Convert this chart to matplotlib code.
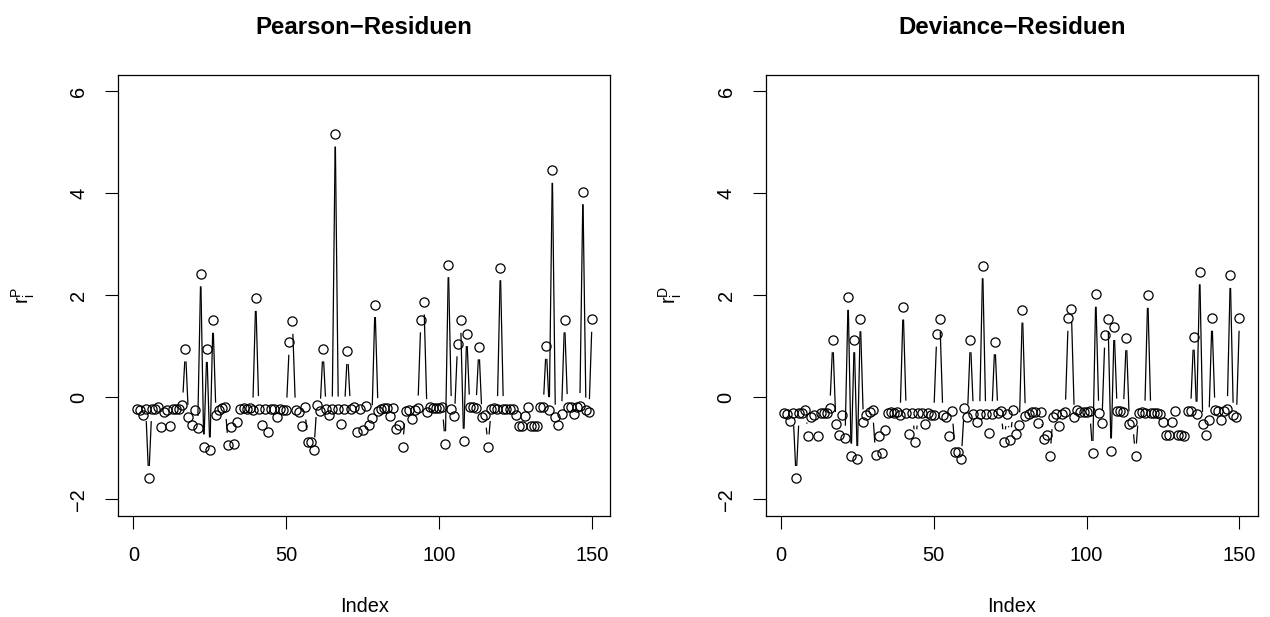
import matplotlib
matplotlib.use('Agg')
import matplotlib.pyplot as plt
import numpy as np
from matplotlib.collections import LineCollection

plt.rcParams['font.family'] = ['Liberation Sans', 'DejaVu Sans']
plt.rcParams['mathtext.fontset'] = 'custom'
plt.rcParams['mathtext.rm'] = 'Liberation Sans'

index = np.arange(1, 151)
pearson = [
    -0.22, -0.24, -0.34, -0.22, -1.59, -0.22, -0.22, -0.18, -0.58, -0.28,
    -0.25, -0.57, -0.22, -0.22, -0.22, -0.15, 0.95, -0.39, -0.55, -0.25,
    -0.61, 2.42, -0.97, 0.94, -1.03, 1.51, -0.35, -0.25, -0.20, -0.18,
    -0.94, -0.58, -0.91, -0.48, -0.22, -0.20, -0.22, -0.20, -0.25, 1.94,
    -0.22, -0.54, -0.22, -0.68, -0.22, -0.22, -0.38, -0.22, -0.25, -0.25,
    1.08, 1.49, -0.25, -0.28, -0.57, -0.19, -0.88, -0.88, -1.03, -0.14,
    -0.27, 0.95, -0.23, -0.35, -0.23, 5.16, -0.23, -0.52, -0.23, 0.90,
    -0.22, -0.19, -0.68, -0.23, -0.64, -0.17, -0.54, -0.40, 1.82, -0.26,
    -0.23, -0.20, -0.20, -0.37, -0.20, -0.63, -0.55, -0.97, -0.27, -0.24,
    -0.42, -0.24, -0.21, 1.52, 1.87, -0.28, -0.18, -0.20, -0.20, -0.20,
    -0.19, -0.91, 2.60, -0.22, -0.37, 1.05, 1.51, -0.86, 1.25, -0.19,
    -0.19, -0.20, 0.99, -0.38, -0.35, -0.97, -0.22, -0.20, -0.22, 2.54,
    -0.22, -0.22, -0.22, -0.23, -0.35, -0.56, -0.56, -0.36, -0.19, -0.56,
    -0.56, -0.57, -0.19, -0.19, 1.00, -0.24, 4.45, -0.39, -0.55, -0.32,
    1.52, -0.18, -0.19, -0.32, -0.19, -0.16, 4.03, -0.25, -0.28, 1.53,
]
deviance = [
    -0.31, -0.33, -0.47, -0.31, -1.59, -0.31, -0.31, -0.25, -0.76, -0.39,
    -0.35, -0.75, -0.31, -0.31, -0.31, -0.21, 1.13, -0.53, -0.73, -0.35,
    -0.80, 1.96, -1.15, 1.13, -1.20, 1.54, -0.48, -0.35, -0.28, -0.25,
    -1.13, -0.76, -1.10, -0.64, -0.31, -0.28, -0.31, -0.28, -0.35, 1.77,
    -0.31, -0.72, -0.31, -0.87, -0.31, -0.31, -0.52, -0.31, -0.35, -0.35,
    1.24, 1.53, -0.35, -0.39, -0.75, -0.27, -1.07, -1.07, -1.20, -0.20,
    -0.38, 1.13, -0.32, -0.48, -0.32, 2.58, -0.32, -0.69, -0.32, 1.09,
    -0.31, -0.27, -0.87, -0.32, -0.83, -0.24, -0.72, -0.54, 1.71, -0.36,
    -0.32, -0.28, -0.28, -0.51, -0.28, -0.82, -0.73, -1.15, -0.38, -0.33,
    -0.57, -0.33, -0.29, 1.55, 1.73, -0.39, -0.25, -0.28, -0.28, -0.28,
    -0.27, -1.10, 2.02, -0.31, -0.51, 1.22, 1.54, -1.05, 1.37, -0.27,
    -0.27, -0.28, 1.17, -0.52, -0.48, -1.15, -0.31, -0.28, -0.31, 2.00,
    -0.31, -0.31, -0.31, -0.32, -0.48, -0.74, -0.74, -0.49, -0.27, -0.74,
    -0.74, -0.75, -0.27, -0.27, 1.18, -0.33, 2.46, -0.53, -0.73, -0.44,
    1.55, -0.25, -0.27, -0.44, -0.27, -0.22, 2.39, -0.35, -0.39, 1.55,
]

titles = ['Pearson\u2212Residuen', 'Deviance\u2212Residuen']
ylabels = [r'$\mathregular{r_i^P}$', r'$\mathregular{r_i^D}$']
xticks = [0, 50, 100, 150]
yticks = [-2, 0, 2, 4, 6]

W, H = 1270, 617
fig = plt.figure(figsize=(W / 100, H / 100), dpi=100)

GAP = 12.5  # px kept free around each point, like R's type = "b"


def panel(left_px, vals, title, ylab):
    ax = fig.add_axes([left_px / W, 1 - 515.7 / H, 492 / W, (515.7 - 75) / H])
    ax.set_xlim(1 - 0.04 * 149, 150 + 0.04 * 149)
    ax.set_ylim(-2 - 0.32, 6 + 0.32)

    ax.plot(index, vals, 'o', mfc='none', mec='black', ms=6.6, mew=0.9)

    # gapped connecting lines
    pts = ax.transData.transform(np.column_stack([index, vals]))
    inv = ax.transData.inverted()
    segs = []
    for p, q in zip(pts[:-1], pts[1:]):
        d = q - p
        L = np.hypot(d[0], d[1])
        if L > 2 * GAP:
            u = d / L
            segs.append(inv.transform(np.array([p + u * GAP, q - u * GAP])))
    ax.add_collection(LineCollection(segs, colors='black', linewidths=0.9))

    ax.set_xticks(xticks)
    ax.set_yticks(yticks)
    ax.tick_params(direction='out', length=9.6, width=0.8, labelsize=14.4,
                   pad=12)
    for lab in ax.get_yticklabels():
        lab.set_rotation(90)
        lab.set_va('center')
    for s in ax.spines.values():
        s.set_linewidth(0.9)

    cx = (left_px + 246) / W
    fig.text(cx, 1 - 27 / H, title, ha='center', va='center',
             fontsize=17.3, fontweight='bold')
    fig.text(cx, 1 - 606 / H, 'Index', ha='center', va='center',
             fontsize=14.4)
    fig.text((left_px - 95) / W, 1 - 295 / H, ylab, ha='center',
             va='center', rotation=90, fontsize=14.4)
    return ax


panel(118.3, pearson, titles[0], ylabels[0])
panel(765.7, deviance, titles[1], ylabels[1])

fig.savefig('out.png', dpi=100)
